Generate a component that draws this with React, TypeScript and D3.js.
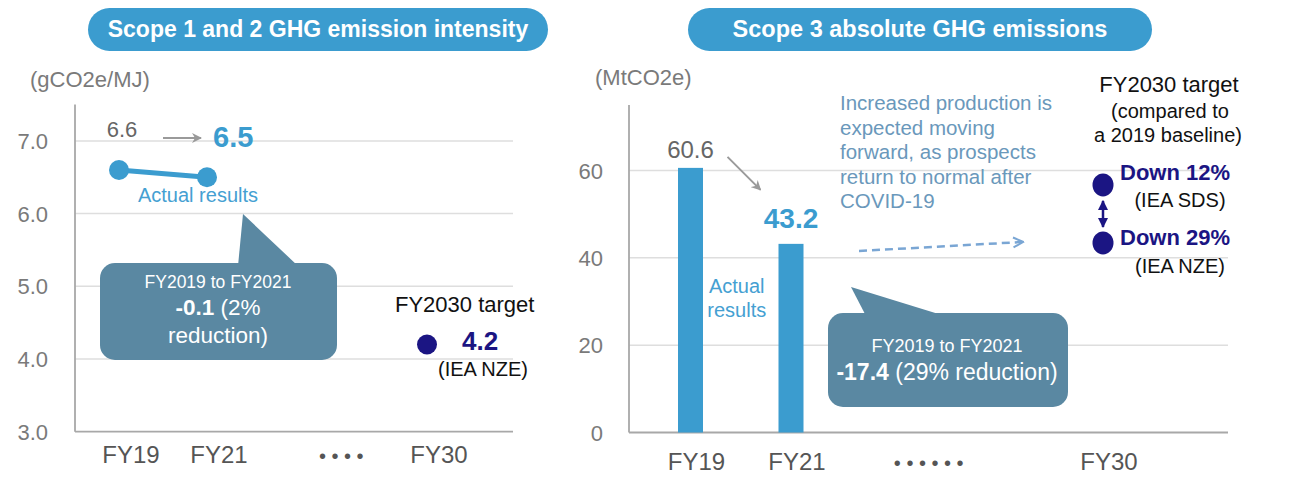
import * as d3 from "d3";

// fonts / colours
const FONT = "'Liberation Sans', Arial, Helvetica, sans-serif";
const BLUE = "#3b9ccf";
const NAVY = "#1b1583";
const CALLOUT = "#5a88a2";
const GREY_TXT = "#7a7a7a";
const AXIS = "#a8a8a8";
const GRID = "#dedede";
const NOTE = "#6a98bb";

// left panel : scope 1+2 intensity (gCO2e/MJ)
const intensityYears = [2019, 2021];
const intensityValues = [6.6, 6.5];
const intensityTargetYear = 2030;
const intensityTarget = 4.2;
const intensityTicks = [3, 4, 5, 6, 7];
const intensityLabels = ["FY19", "FY21", "• • • •", "FY30"];
const intensityLabelYears = [2019, 2021, 2026, 2030];

// right panel : scope 3 absolute (MtCO2e)
const scope3Years = [2019, 2021];
const scope3Values = [60.6, 43.2];
const scope3TargetYear = 2030;
const scope3Targets = [56.7, 43.4];
const scope3TargetNames = ["Down 12%", "Down 29%"];
const scope3TargetScen = ["(IEA SDS)", "(IEA NZE)"];
const scope3Ticks = [0, 20, 40, 60];
const scope3Labels = ["FY19", "FY21", "• • • • • •", "FY30"];
const scope3LabelYears = [2019, 2021, 2024.8, 2030];
const noteLines = [
  "Increased production is",
  "expected moving",
  "forward, as prospects",
  "return to normal after",
  "COVID-19",
];

function Pill({ x, y, w, h, text, size }: { x: number; y: number; w: number; h: number; text: string; size: number }) {
  return (
    <g>
      <rect x={x} y={y} width={w} height={h} rx={h / 2} fill={BLUE} />
      <text x={x + w / 2} y={y + h / 2 + 7.5} textAnchor="middle" fill="#fff" fontWeight="bold" fontSize={size}>
        {text}
      </text>
    </g>
  );
}

function LeftPanel() {
  const y = d3.scaleLinear([3, 7], [431.7, 140.9]);
  const x = d3.scaleLinear([2019, 2021, 2030], [119, 207, 427]);
  const line = d3.line<number>((_, i) => x(intensityYears[i]), (d) => y(d));
  const fmt = d3.format(".1f");
  const x0 = 75, x1 = 513;
  const p19 = [x(2019), y(intensityValues[0])];
  const p21 = [x(2021), y(intensityValues[1])];
  const tx = x(intensityTargetYear), ty = y(intensityTarget);

  return (
    <g>
      <Pill x={88} y={8} w={460} h={43} size={23} text="Scope 1 and 2 GHG emission intensity" />
      <text x={30} y={87} fontSize={22} fill={GREY_TXT}>(gCO2e/MJ)</text>

      {intensityTicks.map((t) => (
        <g key={t}>
          {t !== 3 && <line x1={x0} x2={x1} y1={y(t)} y2={y(t)} stroke={GRID} strokeWidth={1.5} />}
          <text x={48} y={y(t) + 8} textAnchor="end" fontSize={22} fill={GREY_TXT}>{fmt(t)}</text>
        </g>
      ))}
      <line x1={x0} x2={x0} y1={y(7.5)} y2={y(3)} stroke={AXIS} strokeWidth={1.8} />
      <line x1={x0} x2={x1} y1={y(3)} y2={y(3)} stroke={AXIS} strokeWidth={1.8} />

      {intensityLabels.map((l, i) => (
        <text key={l} x={x(intensityLabelYears[i]) + 12} y={463} textAnchor="middle" fontSize={l.startsWith("•") ? 20 : 24} fill="#555">{l}</text>
      ))}

      {/* actual results */}
      <path d={line(intensityValues) ?? ""} fill="none" stroke={BLUE} strokeWidth={5} />
      {intensityValues.map((v, i) => (
        <circle key={i} cx={x(intensityYears[i])} cy={y(v)} r={10} fill={BLUE} />
      ))}
      <text x={p19[0] + 3} y={p19[1] - 33} textAnchor="middle" fontSize={22} fill="#666">6.6</text>
      <line x1={p19[0] + 44} x2={p21[0] - 6} y1={p19[1] - 32} y2={p19[1] - 32} stroke="#9a9a9a" strokeWidth={2} markerEnd="url(#greyHead)" />
      <text x={p21[0] + 6} y={p21[1] - 30} fontSize={29} fontWeight="bold" fill={BLUE}>6.5</text>
      <text x={(p19[0] + p21[0]) / 2 + 35} y={p21[1] + 25} textAnchor="middle" fontSize={20} fill="#45a0d2">Actual results</text>

      {/* callout */}
      <polygon points="243,214 238,266 298,266" fill={CALLOUT} />
      <rect x={100} y={263} width={237} height={97} rx={15} fill={CALLOUT} />
      <text x={218} y={288} textAnchor="middle" fontSize={17.5} fill="#fff">FY2019 to FY2021</text>
      <text x={218} y={315} textAnchor="middle" fontSize={22.5} fill="#fff">
        <tspan fontWeight="bold">-0.1</tspan> (2%
      </text>
      <text x={218} y={343} textAnchor="middle" fontSize={22.5} fill="#fff">reduction)</text>

      {/* target */}
      <text x={tx - 32} y={312} fontSize={22} fill="#111">FY2030 target</text>
      <circle cx={tx} cy={ty} r={10} fill={NAVY} />
      <text x={tx + 35} y={ty + 6} fontSize={26} fontWeight="bold" fill={NAVY}>{fmt(intensityTarget)}</text>
      <text x={tx + 56} y={ty + 32} textAnchor="middle" fontSize={20} fill="#111">(IEA NZE)</text>
    </g>
  );
}

function RightPanel() {
  const y = d3.scaleLinear([0, 60], [432.5, 170.5]);
  const x = d3.scaleLinear([2019, 2021, 2030], [690.5, 791, 1103]);
  const x0 = 629, x1 = 1228;
  const bw = 25;
  const b19 = [x(2019), y(scope3Values[0])];
  const b21 = [x(2021), y(scope3Values[1])];
  const tx = x(scope3TargetYear);
  const ty = scope3Targets.map((v) => y(v));
  const nameDy = [-5, 2];
  const scenDy = [22, 30];

  return (
    <g>
      <Pill x={688} y={8} w={464} h={43} size={23.5} text="Scope 3 absolute GHG emissions" />
      <text x={595} y={85} fontSize={22} fill={GREY_TXT}>(MtCO2e)</text>

      {scope3Ticks.map((t) => (
        <g key={t}>
          {t !== 0 && <line x1={x0} x2={x1} y1={y(t)} y2={y(t)} stroke={GRID} strokeWidth={1.5} />}
          <text x={603} y={y(t) + 8} textAnchor="end" fontSize={22} fill={GREY_TXT}>{t}</text>
        </g>
      ))}
      <line x1={x0} x2={x0} y1={y(75)} y2={y(0)} stroke={AXIS} strokeWidth={1.8} />
      <line x1={x0} x2={x1} y1={y(0)} y2={y(0)} stroke={AXIS} strokeWidth={1.8} />

      {scope3Labels.map((l, i) => (
        <text key={l} x={x(scope3LabelYears[i]) + 6} y={470} textAnchor="middle" fontSize={l.startsWith("•") ? 20 : 24} fill="#555">{l}</text>
      ))}

      {/* bars */}
      {scope3Values.map((v, i) => (
        <rect key={i} x={x(scope3Years[i]) - bw / 2} y={y(v)} width={bw} height={y(0) - y(v)} fill={BLUE} />
      ))}
      <text x={b19[0]} y={b19[1] - 10} textAnchor="middle" fontSize={24} fill="#666">{scope3Values[0]}</text>
      <line x1={b19[0] + 37} y1={b19[1] - 11} x2={b19[0] + 70} y2={b19[1] + 22} stroke="#9a9a9a" strokeWidth={2} markerEnd="url(#greyHead)" />
      <text x={b21[0]} y={b21[1] - 16} textAnchor="middle" fontSize={28} fontWeight="bold" fill={BLUE}>{scope3Values[1]}</text>
      <text x={(b19[0] + b21[0]) / 2 - 4} y={293} textAnchor="middle" fontSize={20} fill="#45a0d2">Actual</text>
      <text x={(b19[0] + b21[0]) / 2 - 4} y={317} textAnchor="middle" fontSize={20} fill="#45a0d2">results</text>

      {/* callout */}
      <polygon points="851,287 866,316 945,316" fill={CALLOUT} />
      <rect x={828} y={313} width={240} height={94} rx={15} fill={CALLOUT} />
      <text x={947} y={352} textAnchor="middle" fontSize={18} fill="#fff">FY2019 to FY2021</text>
      <text x={947} y={380} textAnchor="middle" fontSize={23} fill="#fff">
        <tspan fontWeight="bold">-17.4</tspan> (29% reduction)
      </text>

      {/* note */}
      {noteLines.map((l, i) => (
        <text key={i} x={840} y={110 + i * 24.5} fontSize={20.5} fill={NOTE}>{l}</text>
      ))}
      <line x1={859} y1={251} x2={1022} y2={242} stroke="#7aa6d4" strokeWidth={2.5} strokeDasharray="8 5" markerEnd="url(#dashHead)" />

      {/* targets */}
      <text x={1169} y={92} textAnchor="middle" fontSize={22} fill="#111">FY2030 target</text>
      <text x={1170} y={118} textAnchor="middle" fontSize={20} fill="#111">(compared to</text>
      <text x={1168} y={142} textAnchor="middle" fontSize={20} fill="#111">a 2019 baseline)</text>
      <line x1={tx} x2={tx} y1={ty[0] + 16} y2={ty[1] - 16} stroke={NAVY} strokeWidth={2.5} markerStart="url(#navyHead)" markerEnd="url(#navyHead)" />
      {scope3Targets.map((v, i) => (
        <g key={i}>
          <ellipse cx={tx} cy={ty[i]} rx={10.5} ry={11.5} fill={NAVY} />
          <text x={tx + 17} y={ty[i] + nameDy[i]} fontSize={22} fontWeight="bold" fill={NAVY}>{scope3TargetNames[i]}</text>
          <text x={tx + 77} y={ty[i] + scenDy[i]} textAnchor="middle" fontSize={20} fill="#111">{scope3TargetScen[i]}</text>
        </g>
      ))}
    </g>
  );
}

export default function App() {
  return (
    <svg
      width={1303}
      height={481}
      style={{ position: "absolute", left: 0, top: 0, background: "#fff" }}
      fontFamily={FONT}
    >
      <defs>
        <marker id="greyHead" viewBox="0 0 10 10" refX={9} refY={5} markerWidth={5} markerHeight={5} orient="auto-start-reverse" markerUnits="strokeWidth">
          <path d="M0,0 L10,5 L0,10 L3,5 z" fill="#9a9a9a" />
        </marker>
        <marker id="navyHead" viewBox="0 0 10 10" refX={9} refY={5} markerWidth={4} markerHeight={4} orient="auto-start-reverse" markerUnits="strokeWidth">
          <path d="M0,0 L10,5 L0,10 z" fill={NAVY} />
        </marker>
        <marker id="dashHead" viewBox="0 0 10 10" refX={8} refY={5} markerWidth={5} markerHeight={5} orient="auto" markerUnits="strokeWidth">
          <path d="M1,1 L9,5 L1,9" fill="none" stroke="#7aa6d4" strokeWidth={1.6} />
        </marker>
      </defs>
      <rect width={1303} height={481} fill="#fff" />
      <LeftPanel />
      <RightPanel />
    </svg>
  );
}
